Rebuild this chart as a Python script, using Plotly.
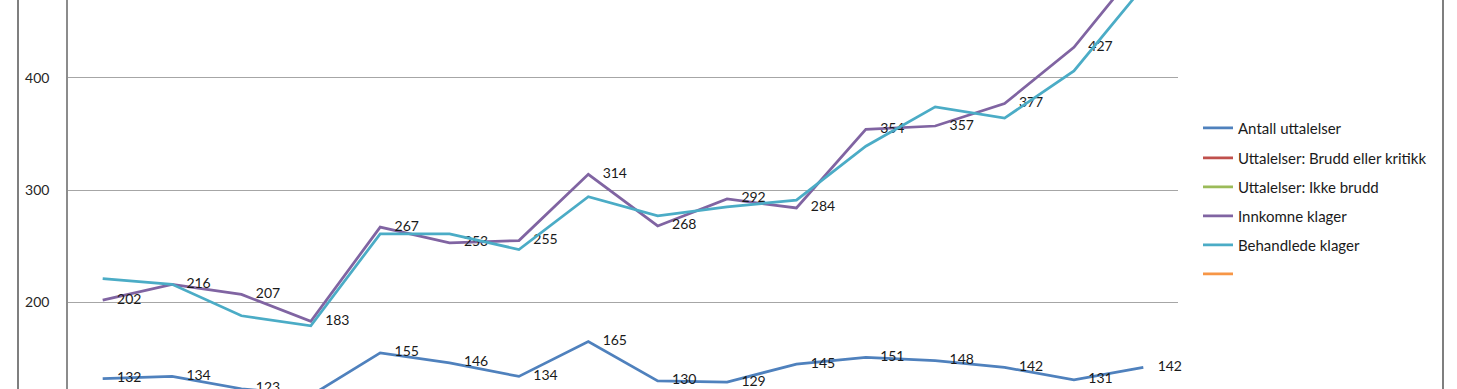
import plotly.graph_objects as go

# 16 periods (x-axis labels lie outside the visible crop)
periods = [str(i) for i in range(1, 17)]

antall_uttalelser = [132, 134, 123, 117, 155, 146, 134, 165, 130, 129, 145, 151, 148, 142, 131, 142]
brudd_eller_kritikk = [None] * 16   # below the visible range
ikke_brudd = [None] * 16            # below the visible range
innkomne_klager = [202, 216, 207, 183, 267, 253, 255, 314, 268, 292, 284, 354, 357, 377, 427, 503]
behandlede_klager = [221, 216, 188, 179, 261, 261, 247, 294, 277, 285, 291, 339, 374, 364, 406, 481]
tom_serie = [None] * 16

names = ["Antall uttalelser", "Uttalelser: Brudd eller kritikk", "Uttalelser: Ikke brudd",
         "Innkomne klager", "Behandlede klager", ""]
series = [antall_uttalelser, brudd_eller_kritikk, ikke_brudd, innkomne_klager, behandlede_klager, tom_serie]
colors = ["#4F81BD", "#C0504D", "#9BBB59", "#8064A2", "#4BACC6", "#F79646"]
labelled = [True, False, False, True, False, False]

FONT = "Lato"
W, H = 1457, 389
L, R = 68, 1178

fig = go.Figure()
legend_y_px = [128, 158, 187, 216, 245, 274]
for i, (nm, ys, col, lab) in enumerate(zip(names, series, colors, labelled)):
    fig.add_trace(go.Scatter(
        x=list(range(len(periods))), y=ys, name=nm,
        mode="lines+text" if lab else "lines",
        line=dict(color=col, width=2.75),
        text=[("\u00a0" * 4 + str(v)) if v is not None else "" for v in ys] if lab else None,
        textposition="middle right",
        textfont=dict(family=FONT, size=14, color="#1a1a1a"),
        cliponaxis=False,
        legend="legend" if i == 0 else f"legend{i+1}",
        hoverinfo="skip",
    ))

layout_legends = {}
for i, ypx in enumerate(legend_y_px):
    key = "legend" if i == 0 else f"legend{i+1}"
    layout_legends[key] = dict(
        x=(1198 - L) / (R - L), xanchor="left",
        y=1 - ypx / H, yanchor="middle",
        font=dict(family=FONT, size=15, color="#1a1a1a"),
        bgcolor="rgba(0,0,0,0)", borderwidth=0,
    )

fig.update_layout(
    width=W, height=H,
    margin=dict(l=L, r=W - R, t=0, b=0),
    paper_bgcolor="white", plot_bgcolor="white",
    showlegend=True,
    xaxis=dict(range=[-0.5, len(periods) - 0.5], showgrid=False, showticklabels=False,
               zeroline=False, showline=False, fixedrange=True),
    yaxis=dict(range=[122.8, 469.2], dtick=100, tick0=0, showgrid=True,
               gridcolor="#a6a6a6", gridwidth=1, zeroline=False,
               showline=True, linecolor="#8c8c8c", linewidth=1.5,
               tickfont=dict(family=FONT, size=14, color="#262626"),
               ticks="", ticklabelstandoff=14, fixedrange=True),
    shapes=[
        dict(type="line", xref="paper", yref="paper", layer="above",
             x0=(18 - L) / (R - L), x1=(18 - L) / (R - L), y0=-0.05, y1=1.05,
             line=dict(color="#7f7f7f", width=2)),
        dict(type="line", xref="paper", yref="paper", layer="above",
             x0=(1443 - L) / (R - L), x1=(1443 - L) / (R - L), y0=-0.05, y1=1.05,
             line=dict(color="#7f7f7f", width=2)),
    ],
    **layout_legends,
)

fig.write_html("out.html", config={"displayModeBar": False},
               post_script="document.body.style.margin='0';document.body.style.overflow='hidden';")
